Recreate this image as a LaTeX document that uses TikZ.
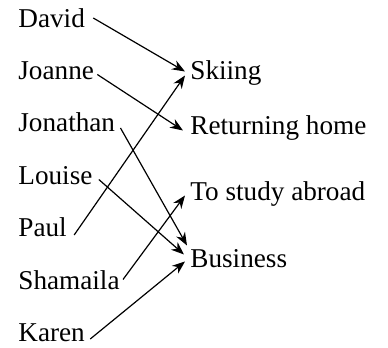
\documentclass[tikz,border=0pt]{standalone}
\usepackage{fontspec}
\setmainfont{Liberation Serif}
\usepackage{xcolor}
\usepackage{tikz}
\usetikzlibrary{positioning, arrows.meta}

\begin{document}
\begin{tikzpicture}[
    x=0.5pt, y=-0.5pt,
    person/.style={inner sep=0pt, anchor=base west, font=\fontsize{13.6}{16}\selectfont},
    goal/.style={inner sep=0pt, anchor=base west, font=\fontsize{13.6}{16}\selectfont},
    arrow/.style={draw, -{Stealth[length=6.5pt, width=5pt]}, line width=0.6pt}
]
    \useasboundingbox (0,0) rectangle (388,348);

    \node (david) [person] at (18,27) {David};
    \node (joanne) [below=26.25pt of david.base west, person] {Joanne};
    \node (jonathan) [below=26.25pt of joanne.base west, person] {Jonathan};
    \node (louise) [below=26.25pt of jonathan.base west, person] {Louise};
    \node (paul) [below=26.25pt of louise.base west, person] {Paul};
    \node (shamaila) [below=26.25pt of paul.base west, person] {Shamaila};
    \node (karen) [below=26.25pt of shamaila.base west, person] {Karen};

    \node (skiing) [right=86pt of joanne.base west, goal] {Skiing};
    \node (home) [below=27.5pt of skiing.base west, goal] {Returning home};
    \node (abroad) [below=33pt of home.base west, goal] {To study abroad};
    \node (business) [below=33.5pt of abroad.base west, goal] {Business};

    \path [arrow] ([shift={(4pt,4.5pt)}]david.base east) -- ([shift={(-2.5pt,4pt)}]skiing.base west);
    \path [arrow] ([shift={(1.5pt,2.5pt)}]joanne.base east) -- ([shift={(-3.5pt,2pt)}]home.base west);
    \path [arrow] ([shift={(2.5pt,2pt)}]jonathan.base east) -- ([shift={(-1.5pt,11pt)}]business.base west);
    \path [arrow] ([shift={(3pt,2.5pt)}]louise.base east) -- ([shift={(-3pt,6.5pt)}]business.base west);
    \path [arrow] ([shift={(3.5pt,1pt)}]paul.base east) -- ([shift={(-2.5pt,2pt)}]skiing.base west);
    \path [arrow] ([shift={(1.5pt,5pt)}]shamaila.base east) -- ([shift={(-2.5pt,2.5pt)}]abroad.base west);
    \path [arrow] ([shift={(2.5pt,1.5pt)}]karen.base east) -- ([shift={(-2.5pt,3pt)}]business.base west);
\end{tikzpicture}
\end{document}
